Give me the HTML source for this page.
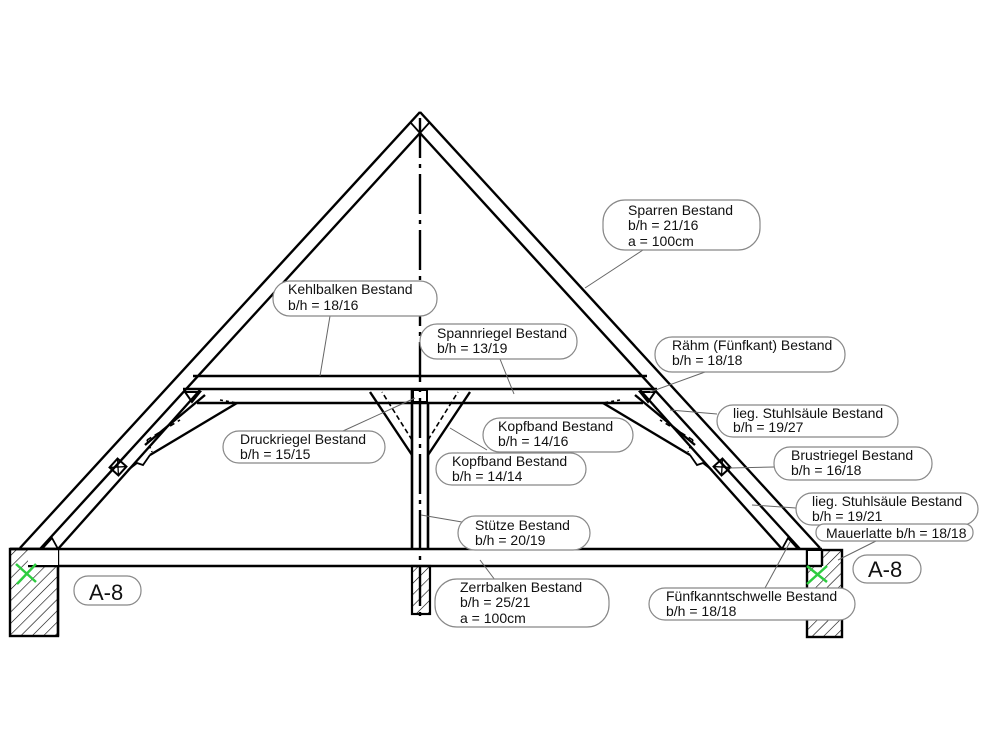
<!DOCTYPE html>
<html><head><meta charset="utf-8"><style>
html,body{margin:0;padding:0;background:#fff;}
svg{display:block;}
text{font-family:"Liberation Sans",Arial,sans-serif;font-size:14px;fill:#111;}
</style></head><body>
<svg width="1000" height="750" viewBox="0 0 1000 750" xmlns="http://www.w3.org/2000/svg">
<defs>
<pattern id="h" width="8" height="8" patternUnits="userSpaceOnUse" patternTransform="rotate(45)">
<line x1="0" y1="0" x2="0" y2="8" stroke="#000" stroke-width="1.2"/>
</pattern>
<g id="half" fill="none" stroke="#000" stroke-width="2.4">
<line x1="20" y1="548" x2="420" y2="112"/>
<line x1="40" y1="549" x2="420" y2="133"/>
<line x1="58" y1="549" x2="200" y2="390"/>
<line x1="150" y1="455" x2="237" y2="403"/>
<line x1="145" y1="445" x2="205" y2="395"/>
<polyline points="128,470 137,463 143,465 150,455" stroke-width="1.8"/>
<line x1="147" y1="440" x2="180" y2="420" stroke-width="1.6" stroke-dasharray="5,4"/>
<line x1="147" y1="440" x2="152" y2="452" stroke-width="1.6" stroke-dasharray="3,3"/>
<line x1="220" y1="400" x2="237" y2="403" stroke-width="1.6" stroke-dasharray="3,3"/>
<g transform="translate(118,467) rotate(-48)">
<rect x="-6" y="-6" width="12" height="12" stroke-width="2"/>
<line x1="-6" y1="-6" x2="6" y2="6" stroke-width="1.3"/><line x1="6" y1="-6" x2="-6" y2="6" stroke-width="1.3"/>
</g>
<polygon points="185,392 200,392 192,402" stroke-width="2"/>
<polygon points="42,549 52,538 58,549" stroke-width="1.8"/>
<line x1="412" y1="455" x2="370" y2="392"/>
<line x1="412" y1="440" x2="382" y2="392" stroke-width="1.6" stroke-dasharray="5,3"/>
<line x1="411" y1="123" x2="420" y2="133" stroke-width="1.8"/>
</g>
</defs>

<g stroke="#000" stroke-width="2.6" fill="none">
<line x1="193" y1="376" x2="647" y2="376"/>
<line x1="183" y1="389" x2="657" y2="389"/>
<line x1="197" y1="403" x2="643" y2="403"/>
<line x1="10" y1="549" x2="822" y2="549"/>
<line x1="28" y1="566" x2="807" y2="566"/>
<line x1="412" y1="389" x2="412" y2="549"/>
<line x1="428" y1="403" x2="428" y2="549"/>
<rect x="413" y="390" width="14" height="12" stroke-width="2"/>
</g>
<use href="#half"/>
<use href="#half" transform="translate(840,0) scale(-1,1)"/>

<rect x="10" y="549" width="48" height="87" fill="url(#h)" stroke="#000" stroke-width="2.4"/>
<rect x="807" y="550" width="35" height="87" fill="url(#h)" stroke="#000" stroke-width="2.4"/>
<rect x="412" y="566" width="18" height="48" fill="url(#h)" stroke="#000" stroke-width="2.2"/>
<rect x="28" y="550" width="30" height="15" fill="#fff" stroke="none"/>
<rect x="808" y="551" width="14" height="14" fill="#fff" stroke="none"/>
<line x1="10" y1="549" x2="58" y2="549" stroke="#000" stroke-width="2.4"/>
<line x1="58" y1="566" x2="58" y2="636" stroke="#000" stroke-width="2.4"/>
<line x1="807" y1="566" x2="822" y2="566" stroke="#000" stroke-width="2.4"/>
<line x1="822" y1="549" x2="822" y2="566" stroke="#000" stroke-width="2.4"/>

<line x1="420" y1="118" x2="420" y2="622" stroke="#000" stroke-width="2.4" stroke-dasharray="40,6,4,6"/>

<g stroke="#2ecc40" stroke-width="2.5">
<line x1="16" y1="564" x2="36" y2="582"/><line x1="36" y1="564" x2="17" y2="584"/>
<line x1="807" y1="566" x2="827" y2="582"/><line x1="827" y1="566" x2="807" y2="584"/>
</g>

<g stroke="#666" stroke-width="1" fill="none">
<line x1="643" y1="250" x2="585" y2="288"/>
<line x1="330" y1="316" x2="320" y2="376"/>
<line x1="500" y1="359" x2="514" y2="394"/>
<line x1="705" y1="372" x2="650" y2="392"/>
<line x1="717" y1="414" x2="670" y2="410"/>
<line x1="487" y1="450" x2="450" y2="428"/>
<line x1="343" y1="431" x2="415" y2="398"/>
<line x1="774" y1="467" x2="730" y2="468"/>
<line x1="796" y1="508" x2="752" y2="505"/>
<line x1="876" y1="541" x2="838" y2="560"/>
<line x1="462" y1="522" x2="421" y2="515"/>
<line x1="495" y1="580" x2="480" y2="560"/>
<line x1="765" y1="588" x2="790" y2="542"/>
</g>

<g fill="#fff" stroke="#888" stroke-width="1.2">
<rect x="603" y="200" width="157" height="50" rx="22"/>
<rect x="273" y="281" width="164" height="35" rx="17"/>
<rect x="420" y="324" width="157" height="35" rx="17"/>
<rect x="655" y="337" width="190" height="35" rx="17"/>
<rect x="717" y="405" width="181" height="32" rx="16"/>
<rect x="483" y="418" width="150" height="34" rx="17"/>
<rect x="223" y="431" width="162" height="32" rx="16"/>
<rect x="436" y="453" width="150" height="32" rx="16"/>
<rect x="774" y="447" width="158" height="33" rx="16"/>
<rect x="796" y="493" width="182" height="32" rx="16"/>
<rect x="816" y="524" width="157" height="17" rx="8"/>
<rect x="458" y="516" width="132" height="34" rx="17"/>
<rect x="74" y="576" width="67" height="29" rx="14"/>
<rect x="853" y="555" width="68" height="28" rx="14"/>
<rect x="435" y="579" width="174" height="48" rx="22"/>
<rect x="649" y="588" width="206" height="32" rx="16"/>
</g>

<text x="628" y="215">Sparren Bestand</text>
<text x="628" y="230">b/h = 21/16</text>
<text x="628" y="246">a = 100cm</text>
<text x="288" y="294">Kehlbalken Bestand</text>
<text x="288" y="310">b/h = 18/16</text>
<text x="437" y="338">Spannriegel Bestand</text>
<text x="437" y="353">b/h = 13/19</text>
<text x="672" y="350">Rähm (Fünfkant) Bestand</text>
<text x="672" y="365">b/h = 18/18</text>
<text x="733" y="418">lieg. Stuhlsäule Bestand</text>
<text x="733" y="432">b/h = 19/27</text>
<text x="498" y="431">Kopfband Bestand</text>
<text x="498" y="446">b/h = 14/16</text>
<text x="240" y="444">Druckriegel Bestand</text>
<text x="240" y="459">b/h = 15/15</text>
<text x="452" y="466">Kopfband Bestand</text>
<text x="452" y="481">b/h = 14/14</text>
<text x="791" y="460">Brustriegel Bestand</text>
<text x="791" y="475">b/h = 16/18</text>
<text x="812" y="506">lieg. Stuhlsäule Bestand</text>
<text x="812" y="521">b/h = 19/21</text>
<text x="826" y="538">Mauerlatte b/h = 18/18</text>
<text x="475" y="530">Stütze Bestand</text>
<text x="475" y="545">b/h = 20/19</text>
<text x="89" y="600" style="font-size:22px">A-8</text>
<text x="868" y="577" style="font-size:22px">A-8</text>
<text x="460" y="592">Zerrbalken Bestand</text>
<text x="460" y="607">b/h = 25/21</text>
<text x="460" y="623">a = 100cm</text>
<text x="666" y="601">Fünfkanntschwelle Bestand</text>
<text x="666" y="616">b/h = 18/18</text>
</svg>
</body></html>
